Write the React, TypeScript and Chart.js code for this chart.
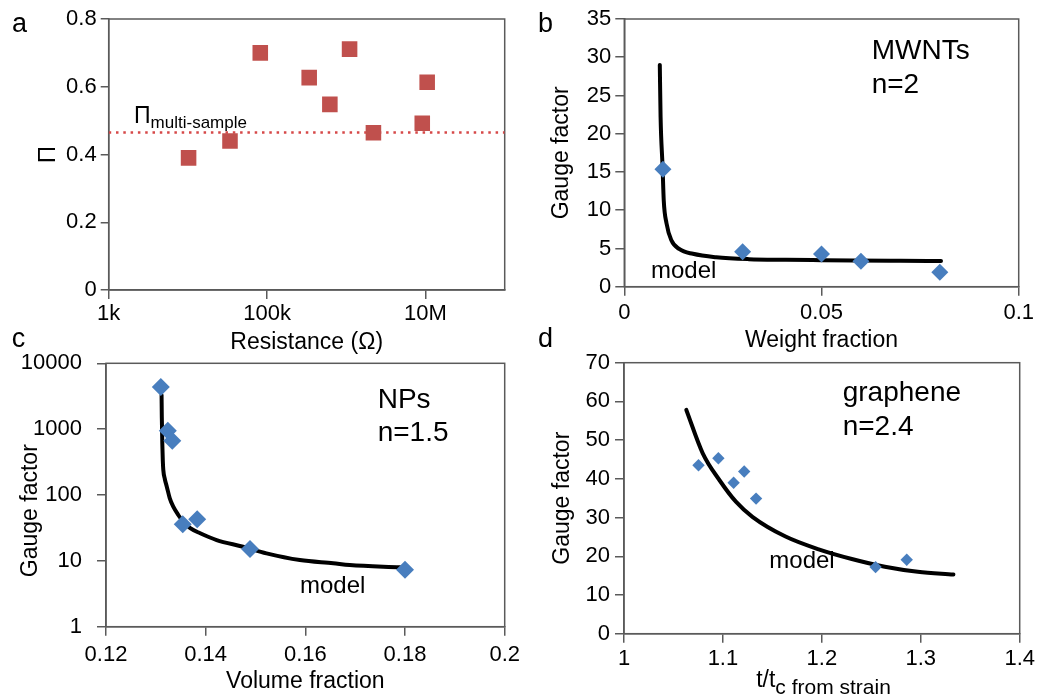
import React, { useEffect, useRef } from 'react';
import { Chart, registerables } from 'chart.js';

Chart.register(...registerables);

const FONT = "'Liberation Sans', Arial, Helvetica, sans-serif";
const AXIS = '#5a5a5a';
const RED = 'rgb(192,80,77)';
const DOT_RED = 'rgb(214,72,72)';
const BLUE = 'rgb(72,126,190)';

// ---------- panel a ----------
const resistanceOhm = [1.02e4, 3.4e4, 8.2e4, 3.4e5, 6.2e5, 1.1e6, 2.2e6, 9.1e6, 1.05e7];
const piValues = [0.39, 0.44, 0.7, 0.627, 0.548, 0.711, 0.464, 0.492, 0.613];
const piMultiSample = 0.465;
const resistanceRange = [1e3, 1e8];
const resistanceTicks = [1e3, 1e5, 1e7];
const resistanceTickLabels = ['1k', '100k', '10M'];
const piTicks = [0, 0.2, 0.4, 0.6, 0.8];
const piTickLabels = ['0', '0.2', '0.4', '0.6', '0.8'];

// ---------- panel b ----------
const mwntWeightFraction = [0.0098, 0.03, 0.05, 0.06, 0.08];
const mwntGaugeFactor = [15.35, 4.58, 4.28, 3.32, 1.88];
const mwntModelWeightFraction = [0.009, 0.0092, 0.0097, 0.01, 0.0107, 0.0119, 0.014, 0.0174, 0.0233, 0.0316, 0.041, 0.05, 0.058, 0.07, 0.0803];
const mwntModelGaugeFactor = [29.0, 22.2, 15.7, 11.3, 8.3, 6.1, 4.9, 4.3, 3.85, 3.6, 3.52, 3.47, 3.43, 3.39, 3.36];
const weightTicks = [0, 0.05, 0.1];
const weightTickLabels = ['0', '0.05', '0.1'];
const gaugeTicksB = [0, 5, 10, 15, 20, 25, 30, 35];
const gaugeTickLabelsB = ['0', '5', '10', '15', '20', '25', '30', '35'];

// ---------- panel c ----------
const npVolumeFraction = [0.131, 0.1324, 0.1333, 0.1354, 0.1383, 0.1489, 0.18];
const npGaugeFactor = [4350, 942, 664, 36, 43, 15.2, 7.3];
const npModelVolumeFraction = [0.13115, 0.1312, 0.1313, 0.1314, 0.1315, 0.1318, 0.1322, 0.1328, 0.1335, 0.1345, 0.1355, 0.1369, 0.1389, 0.1422, 0.1475, 0.1522, 0.1589, 0.1656, 0.1689, 0.179];
const npModelGaugeFactor = [3300, 1500, 600, 330, 240, 175, 134, 89, 66.5, 49.7, 39.4, 31.3, 26.2, 20.7, 16.4, 13.0, 10.3, 9.2, 8.65, 7.98];
const volumeTicks = [0.12, 0.14, 0.16, 0.18, 0.2];
const volumeTickLabels = ['0.12', '0.14', '0.16', '0.18', '0.2'];
const gaugeTicksC = [1, 10, 100, 1000, 10000];
const gaugeTickLabelsC = ['1', '10', '100', '1000', '10000'];

// ---------- panel d ----------
const grapheneThickness = [1.0753, 1.0954, 1.1108, 1.1215, 1.1335, 1.2543, 1.2858];
const grapheneGaugeFactor = [43.5, 45.3, 39.0, 41.9, 34.9, 17.2, 19.1];
const grapheneModelThickness = [1.063, 1.0796, 1.0964, 1.1131, 1.1298, 1.1633, 1.1968, 1.2303, 1.2637, 1.297, 1.333];
const grapheneModelGaugeFactor = [57.8, 46.6, 39.7, 34.1, 30.2, 25.1, 21.8, 19.3, 17.3, 16.0, 15.3];
const thicknessTicks = [1, 1.1, 1.2, 1.3, 1.4];
const thicknessTickLabels = ['1', '1.1', '1.2', '1.3', '1.4'];
const gaugeTicksD = [0, 10, 20, 30, 40, 50, 60, 70];
const gaugeTickLabelsD = ['0', '10', '20', '30', '40', '50', '60', '70'];

// ---------- helpers ----------
type Part = { text: string; size: number; dy?: number };
type TextItem = { x: number; y: number; parts: Part[]; rotate?: boolean; center?: boolean };
type AxisCfg = {
  type: 'linear' | 'logarithmic';
  min: number;
  max: number;
  ticks: number[];
  labels: string[];
  tl: number;
  pad: number;
  title?: string;
  titleSize?: number;
};
type PanelCfg = {
  canvas: { left: number; top: number; width: number; height: number };
  plot: { l: number; t: number; r: number; b: number };
  x: AxisCfg;
  y: AxisCfg;
  xTitleY?: number;
  yTitleX?: number;
  datasets: any[];
  texts: TextItem[];
};

const zip = (xs: number[], ys: number[]) => xs.map((x, i) => ({ x, y: ys[i] }));

const framePlugin = {
  id: 'frame',
  beforeDatasetsDraw(chart: any) {
    const { ctx, chartArea } = chart;
    ctx.save();
    ctx.strokeStyle = AXIS;
    ctx.lineWidth = 1.5;
    ctx.strokeRect(chartArea.left, chartArea.top, chartArea.right - chartArea.left, chartArea.bottom - chartArea.top);
    ctx.restore();
  },
};

function textPlugin(items: TextItem[], ox: number, oy: number) {
  return {
    id: 'panelText',
    afterDraw(chart: any) {
      const ctx = chart.ctx as CanvasRenderingContext2D;
      ctx.save();
      ctx.fillStyle = '#000';
      for (const it of items) {
        const widths = it.parts.map((p) => {
          ctx.font = `${p.size}px ${FONT}`;
          return ctx.measureText(p.text).width;
        });
        const total = widths.reduce((a, b) => a + b, 0);
        ctx.save();
        ctx.translate(it.x - ox, it.y - oy);
        if (it.rotate) ctx.rotate(-Math.PI / 2);
        ctx.textBaseline = it.rotate ? 'middle' : 'alphabetic';
        ctx.textAlign = 'left';
        let cx = it.center ? -total / 2 : 0;
        it.parts.forEach((p, i) => {
          ctx.font = `${p.size}px ${FONT}`;
          ctx.fillText(p.text, cx, p.dy ?? 0);
          cx += widths[i];
        });
        ctx.restore();
      }
      ctx.restore();
    },
  };
}

function axisOptions(a: AxisCfg, horizontal: boolean, size: number, titlePad: { top: number; bottom: number }) {
  return {
    type: a.type,
    min: a.min,
    max: a.max,
    afterBuildTicks: (s: any) => {
      s.ticks = a.ticks.map((v) => ({ value: v }));
    },
    afterFit: (s: any) => {
      if (horizontal) s.height = size;
      else s.width = size;
    },
    ticks: {
      callback: (_v: any, i: number) => a.labels[i],
      font: { size: 22, family: FONT },
      color: '#000',
      padding: a.pad,
      autoSkip: false,
      maxRotation: 0,
      minRotation: 0,
    },
    grid: {
      display: true,
      drawOnChartArea: false,
      drawTicks: true,
      tickLength: a.tl,
      color: AXIS,
      lineWidth: 1.5,
    },
    border: { display: true, color: AXIS, width: 1.5 },
    title: a.title
      ? {
          display: true,
          text: a.title,
          font: { size: a.titleSize ?? 23, family: FONT },
          color: '#000',
          padding: titlePad,
        }
      : { display: false },
  };
}

function buildConfig(p: PanelCfg): any {
  const c = p.canvas;
  const yTS = p.y.titleSize ?? 23;
  const xTS = p.x.titleSize ?? 23;
  const padLeft = p.y.title && p.yTitleX !== undefined ? p.yTitleX - c.left - (yTS * 1.2) / 2 : 0;
  const yWidth = p.plot.l - c.left - padLeft;
  const xHeight = c.top + c.height - p.plot.b;
  const xTitlePadBottom = p.x.title && p.xTitleY !== undefined ? c.top + c.height - p.xTitleY - (xTS * 1.2) / 2 : 0;
  return {
    type: 'scatter',
    data: { datasets: p.datasets },
    options: {
      responsive: false,
      maintainAspectRatio: false,
      animation: false,
      events: [],
      layout: {
        padding: {
          left: padLeft,
          top: p.plot.t - c.top,
          right: c.left + c.width - p.plot.r,
          bottom: 0,
        },
      },
      plugins: { legend: { display: false }, tooltip: { enabled: false } },
      scales: {
        x: axisOptions(p.x, true, xHeight, { top: 0, bottom: xTitlePadBottom }),
        y: axisOptions(p.y, false, yWidth, { top: 0, bottom: 0 }),
      },
    },
    plugins: [framePlugin, textPlugin(p.texts, c.left, c.top)],
  };
}

const diamonds = (xs: number[], ys: number[], r: number) => ({
  type: 'scatter',
  data: zip(xs, ys),
  pointStyle: 'rectRot',
  pointRadius: r,
  pointBackgroundColor: BLUE,
  pointBorderWidth: 0,
  pointBorderColor: BLUE,
});

const modelLine = (xs: number[], ys: number[]) => ({
  type: 'line',
  data: zip(xs, ys),
  borderColor: '#000',
  borderWidth: 4,
  pointRadius: 0,
  fill: false,
  cubicInterpolationMode: 'monotone',
  borderCapStyle: 'round',
  borderJoinStyle: 'round',
});

// ---------- panel definitions ----------
const panelA: PanelCfg = {
  canvas: { left: 0, top: 0, width: 540, height: 360 },
  plot: { l: 108.7, t: 19, r: 504.7, b: 290 },
  yTitleX: 48,
  xTitleY: 342.5,
  x: { type: 'logarithmic', min: resistanceRange[0], max: resistanceRange[1], ticks: resistanceTicks, labels: resistanceTickLabels, tl: 9, pad: 1.5, title: 'Resistance (Ω)' },
  y: { type: 'linear', min: 0, max: 0.8, ticks: piTicks, labels: piTickLabels, tl: 8, pad: 4, title: 'Π', titleSize: 24 },
  datasets: [
    {
      type: 'scatter',
      data: zip(resistanceOhm, piValues),
      pointStyle: 'rect',
      pointRadius: 11,
      pointBackgroundColor: RED,
      pointBorderWidth: 0,
      pointBorderColor: RED,
    },
    {
      type: 'line',
      data: zip(resistanceRange, [piMultiSample, piMultiSample]),
      borderColor: DOT_RED,
      borderWidth: 2.5,
      borderDash: [2.5, 4.8],
      pointRadius: 0,
      fill: false,
    },
  ],
  texts: [
    { x: 12, y: 32, parts: [{ text: 'a', size: 27 }] },
    { x: 134, y: 123.3, parts: [{ text: 'Π', size: 23 }, { text: 'multi-sample', size: 17, dy: 4.5 }] },
  ],
};

const panelB: PanelCfg = {
  canvas: { left: 520, top: 0, width: 518, height: 360 },
  plot: { l: 624.3, t: 19, r: 1021.7, b: 286.7 },
  yTitleX: 562,
  xTitleY: 340.5,
  x: { type: 'linear', min: 0, max: 0.1, ticks: weightTicks, labels: weightTickLabels, tl: 9, pad: 4, title: 'Weight fraction' },
  y: { type: 'linear', min: 0, max: 35, ticks: gaugeTicksB, labels: gaugeTickLabelsB, tl: 9, pad: 4, title: 'Gauge factor' },
  datasets: [diamonds(mwntWeightFraction, mwntGaugeFactor, 8.5), modelLine(mwntModelWeightFraction, mwntModelGaugeFactor)],
  texts: [
    { x: 538, y: 32, parts: [{ text: 'b', size: 27 }] },
    { x: 871.7, y: 59.3, parts: [{ text: 'MWNTs', size: 28 }] },
    { x: 871.7, y: 93.3, parts: [{ text: 'n=2', size: 28 }] },
    { x: 651, y: 278.3, parts: [{ text: 'model', size: 24 }] },
  ],
};

const panelC: PanelCfg = {
  canvas: { left: 0, top: 330, width: 540, height: 367 },
  plot: { l: 106, t: 363.3, r: 504.7, b: 626.7 },
  xTitleY: 681.7,
  x: { type: 'linear', min: 0.12, max: 0.2, ticks: volumeTicks, labels: volumeTickLabels, tl: 9, pad: 6, title: 'Volume fraction' },
  y: { type: 'logarithmic', min: 1, max: 10000, ticks: gaugeTicksC, labels: gaugeTickLabelsC, tl: 9, pad: 15 },
  datasets: [diamonds(npVolumeFraction, npGaugeFactor, 9), modelLine(npModelVolumeFraction, npModelGaugeFactor)],
  texts: [
    { x: 11.7, y: 346.7, parts: [{ text: 'c', size: 27 }] },
    { x: 377.7, y: 408.3, parts: [{ text: 'NPs', size: 28 }] },
    { x: 377.7, y: 441, parts: [{ text: 'n=1.5', size: 28 }] },
    { x: 300, y: 593.3, parts: [{ text: 'model', size: 24 }] },
    { x: 31, y: 510.7, rotate: true, center: true, parts: [{ text: 'Gauge factor', size: 23 }] },
  ],
};

const panelD: PanelCfg = {
  canvas: { left: 520, top: 320, width: 518, height: 377 },
  plot: { l: 624, t: 362.7, r: 1022.3, b: 633.7 },
  yTitleX: 562.3,
  x: { type: 'linear', min: 1, max: 1.4, ticks: thicknessTicks, labels: thicknessTickLabels, tl: 9, pad: 3 },
  y: { type: 'linear', min: 0, max: 70, ticks: gaugeTicksD, labels: gaugeTickLabelsD, tl: 9, pad: 5, title: 'Gauge factor' },
  datasets: [diamonds(grapheneThickness, grapheneGaugeFactor, 6.2), modelLine(grapheneModelThickness, grapheneModelGaugeFactor)],
  texts: [
    { x: 538, y: 347, parts: [{ text: 'd', size: 27 }] },
    { x: 842.7, y: 401, parts: [{ text: 'graphene', size: 28 }] },
    { x: 842.7, y: 435, parts: [{ text: 'n=2.4', size: 28 }] },
    { x: 769.3, y: 568.3, parts: [{ text: 'model', size: 24 }] },
    { x: 823.5, y: 687, center: true, parts: [{ text: 't/t', size: 23 }, { text: 'c from strain', size: 21, dy: 7 }] },
  ],
};

const panels = [panelA, panelB, panelC, panelD];

function Panel({ cfg }: { cfg: PanelCfg }) {
  const ref = useRef<HTMLCanvasElement>(null);
  useEffect(() => {
    if (!ref.current) return;
    const chart = new Chart(ref.current, buildConfig(cfg));
    return () => chart.destroy();
  }, [cfg]);
  const c = cfg.canvas;
  return (
    <canvas
      ref={ref}
      width={c.width}
      height={c.height}
      style={{ position: 'absolute', left: c.left, top: c.top, width: c.width, height: c.height }}
    />
  );
}

export default function App() {
  return (
    <div style={{ position: 'absolute', left: 0, top: 0, width: 1038, height: 697, background: '#fff', overflow: 'hidden' }}>
      {panels.map((p, i) => (
        <Panel key={i} cfg={p} />
      ))}
    </div>
  );
}
